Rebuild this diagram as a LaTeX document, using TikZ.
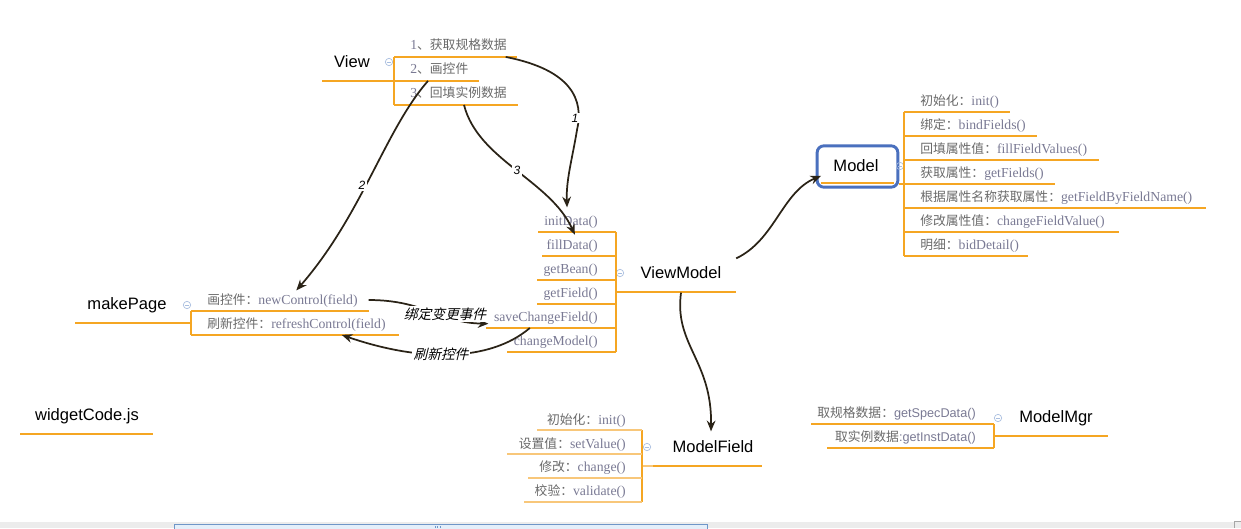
\documentclass[tikz,border=0pt]{standalone}
\usepackage{fontspec}
\setmainfont{Liberation Sans}
\newfontfamily\zcjkf{Noto Sans CJK SC}
\newfontfamily\zcjkit[FakeSlant=0.25]{Noto Sans CJK SC}
\newfontfamily\zserif{Liberation Serif}
\usetikzlibrary{arrows.meta}
\definecolor{org}{HTML}{F5A623}
\definecolor{orgl}{HTML}{F8C77A}
\definecolor{itg}{HTML}{6A6A6A}
\definecolor{mtg}{HTML}{7A7A94}
\definecolor{conn}{HTML}{2A2317}
\definecolor{mblue}{HTML}{4A70BE}
\definecolor{icon}{HTML}{A9BEDF}
\definecolor{bandg}{HTML}{ECECEC}
\definecolor{thumb}{HTML}{E4EFFA}
\definecolor{thumbb}{HTML}{6F96C8}
\newcommand\zcj[1]{{\zcjkf\fontsize{9.6}{11}\selectfont\color{itg}#1}}
\newcommand\zmt[1]{{\zserif\fontsize{10.3}{12}\selectfont\color{mtg}#1}}
\newcommand\zms[1]{{\fontsize{9.5}{11}\selectfont\color{mtg}#1}}
\tikzset{
  topic/.style={font=\fontsize{12.4}{14}\selectfont, text=black, inner sep=0pt},
  itm/.style={inner sep=0pt, text height=8pt, text depth=2pt},
  uline/.style={draw=org, line width=0.9pt},
  ulinel/.style={draw=orgl, line width=0.9pt},
  thickline/.style={draw=org, line width=2.2pt},
  tog/.style={circle, draw=icon, line width=0.5pt, minimum size=5.5pt, inner sep=0pt,
    path picture={\draw[icon, line width=0.5pt] ([xshift=-1.5pt]path picture bounding box.center) -- ([xshift=1.5pt]path picture bounding box.center);}},
  conn/.style={draw=conn, line width=1.3pt, -{Stealth[length=8pt,width=6.5pt]}},
  numlbl/.style={fill=white, inner sep=1pt, font=\itshape\fontsize{9}{10}\selectfont, text=black},
  cjlbl/.style={fill=white, inner sep=1pt, font=\zcjkit\fontsize{10.3}{12}\selectfont, text=black},
}
\begin{document}
\begin{tikzpicture}[x=0.75pt, y=-0.75pt]
\useasboundingbox (0,0) rectangle (1241,528);
\fill[white] (0,0) rectangle (1241,528);

% ---------- View ----------
\node[topic] (view) at (352,62) {View};
\draw[thickline] (322,81) -- (383,81);
\draw[uline] (383,81) -- (394,81);
\node[tog] (vtog) at (389,62) {};
\draw[uline] (394,57) -- (394,105);
\draw[uline] (394,57) -- (517,57);
\draw[uline] (394,81) -- (479,81);
\draw[uline] (394,105) -- (518,105);
\node[itm, anchor=west] (v1) at (410,46) {\zmt{1}\zcj{、获取规格数据}};
\node[itm, anchor=west] (v2) at (410,70) {\zmt{2}\zcj{、画控件}};
\node[itm, anchor=west] (v3) at (410,94) {\zmt{3}\zcj{、回填实例数据}};

% ---------- ViewModel ----------
\node[topic] (vm) at (681,273) {ViewModel};
\draw[thickline] (627,292) -- (736,292);
\draw[uline] (616,292) -- (627,292);
\node[tog] (vmtog) at (620,273) {};
\draw[uline] (616,232) -- (616,352);
\draw[uline] (538,232) -- (616,232);
\draw[uline] (542,256) -- (616,256);
\draw[uline] (537,280) -- (616,280);
\draw[uline] (537,304) -- (616,304);
\draw[uline] (486,328) -- (616,328);
\draw[uline] (507,352) -- (616,352);
\node[itm, anchor=east] (vmInit) at (598,221) {\zmt{initData()}};
\node[itm, anchor=east] (vmFill) at (598,245) {\zmt{fillData()}};
\node[itm, anchor=east] (vmBean) at (598,269) {\zmt{getBean()}};
\node[itm, anchor=east] (vmField) at (598,293) {\zmt{getField()}};
\node[itm, anchor=east] (vmSave) at (598,317) {\zmt{saveChangeField()}};
\node[itm, anchor=east] (vmChg) at (598,341) {\zmt{changeModel()}};

% ---------- Model ----------
\node[draw=mblue, line width=2.2pt, rounded corners=5pt, fill=white,
      minimum width=60.5pt, minimum height=31pt, inner sep=0pt] (model) at (857.5,166.5) {};
\node[topic] (modeltxt) at (856,166) {Model};
\draw[draw=org, line width=2pt] (821,183) -- (894,183);
\draw[uline] (899,184) -- (904,184);
\node[tog] (mtog) at (900,166) {};
\draw[uline] (904,112) -- (904,256);
\draw[uline] (904,112) -- (1010,112);
\draw[uline] (904,136) -- (1037,136);
\draw[uline] (904,160) -- (1099,160);
\draw[uline] (904,184) -- (1055,184);
\draw[uline] (904,208) -- (1206,208);
\draw[uline] (904,232) -- (1119,232);
\draw[uline] (904,256) -- (1028,256);
\node[itm, anchor=west] (m1) at (920,101) {\zcj{初始化：}\zmt{init()}};
\node[itm, anchor=west] (m2) at (920,125) {\zcj{绑定：}\zmt{bindFields()}};
\node[itm, anchor=west] (m3) at (920,149) {\zcj{回填属性值：}\zmt{fillFieldValues()}};
\node[itm, anchor=west] (m4) at (920,173) {\zcj{获取属性：}\zmt{getFields()}};
\node[itm, anchor=west] (m5) at (920,197) {\zcj{根据属性名称获取属性：}\zmt{getFieldByFieldName()}};
\node[itm, anchor=west] (m6) at (920,221) {\zcj{修改属性值：}\zmt{changeFieldValue()}};
\node[itm, anchor=west] (m7) at (920,245) {\zcj{明细：}\zmt{bidDetail()}};

% ---------- ModelField ----------
\node[topic] (mf) at (713,447) {ModelField};
\draw[thickline] (653,466) -- (762,466);
\draw[ulinel] (642,466) -- (653,466);
\node[tog] (mftog) at (647,447) {};
\draw[uline] (642,430) -- (642,502);
\draw[ulinel] (537,430) -- (642,430);
\draw[ulinel] (507,454) -- (642,454);
\draw[ulinel] (528,478) -- (642,478);
\draw[ulinel] (524,502) -- (642,502);
\node[itm, anchor=east] (mf1) at (626,420) {\zcj{初始化：}\zmt{init()}};
\node[itm, anchor=east] (mf2) at (626,444) {\zcj{设置值：}\zmt{setValue()}};
\node[itm, anchor=east] (mf3) at (626,467) {\zcj{修改：}\zmt{change()}};
\node[itm, anchor=east] (mf4) at (626,491) {\zcj{校验：}\zmt{validate()}};

% ---------- ModelMgr ----------
\node[topic] (mm) at (1056,418) {ModelMgr};
\draw[thickline] (1005,436) -- (1108,436);
\draw[uline] (994,436) -- (1005,436);
\node[tog] (mmtog) at (998,418) {};
\draw[uline] (994,424) -- (994,448);
\draw[uline] (811,424) -- (994,424);
\draw[uline] (827,448) -- (994,448);
\node[itm, anchor=east] (mm1) at (976,413) {\zcj{取规格数据：}\zms{getSpecData()}};
\node[itm, anchor=east] (mm2) at (976,437) {\zcj{取实例数据}\zms{:getInstData()}};

% ---------- makePage ----------
\node[topic] (mp) at (127,305) {makePage};
\draw[thickline] (75,323) -- (181,323);
\draw[uline] (181,323) -- (191,323);
\node[tog] (mptog) at (187,305) {};
\draw[uline] (191,311) -- (191,335);
\draw[uline] (191,311) -- (369,311);
\draw[uline] (191,335) -- (399,335);
\node[itm, anchor=west] (mp1) at (207,300) {\zcj{画控件：}\zmt{newControl(field)}};
\node[itm, anchor=west] (mp2) at (207,324) {\zcj{刷新控件：}\zmt{refreshControl(field)}};

% ---------- widgetCode.js ----------
\node[topic] (wc) at (87,416) {widgetCode.js};
\draw[thickline] (20,434) -- (153,434);

% ---------- connectors ----------
\draw[conn] ([xshift=-1pt,yshift=-3pt]v1.south east) .. controls (572,70) and (584,100) .. (577,130)
  .. controls (572,160) and (566,180) .. ([xshift=-3pt,yshift=5pt]vmInit.north);
\node[numlbl] (l1) at (575,118) {1};

\draw[conn] ([xshift=13.5pt,yshift=-3pt]v2.south west) .. controls (385,130) and (362,215) .. ([xshift=67pt,yshift=2pt]mp1.north west);
\node[numlbl] (l2) at (362,185) {2};

\draw[conn] ([xshift=40.5pt,yshift=-3pt]v3.south west) .. controls (478,160) and (550,180) .. ([xshift=2pt,yshift=2.5pt]vmFill.north);
\node[numlbl] (l3) at (517,170) {3};

\draw[conn] ([xshift=8pt]mp1.east) .. controls (425,300) and (440,323) .. ([xshift=-4pt,yshift=-5pt]vmSave.west);
\node[cjlbl] (lb1) at (445,314) {绑定变更事件};

\draw[conn] ([xshift=-12pt,yshift=-3pt]vmSave.south) .. controls (490,362) and (420,362) .. ([xshift=34pt,yshift=-3pt]mp2.south);
\node[cjlbl] (lb2) at (441,354) {刷新控件};

\draw[conn] ([xshift=11pt,yshift=11pt]vm.east) .. controls (775,240) and (782,192) .. ([xshift=4pt,yshift=-7pt]model.west);

\draw[conn] ([yshift=-10pt]vm.south) .. controls (674,345) and (712,360) .. ([xshift=-1.5pt,yshift=7pt]mf.north);

% ---------- bottom scrollbar ----------
\fill[bandg] (0,522) rectangle (1241,528);
\draw[thumbb, fill=thumb, line width=0.7pt] (174,524) rectangle (707,530);
\foreach \gx in {435,437.5,440} { \draw[thumbb, line width=0.6pt] (\gx,526) -- (\gx,528); }
\draw[gray!70, line width=0.6pt] (1234,528) -- (1234,521) -- (1241,521);
\end{tikzpicture}
\end{document}
